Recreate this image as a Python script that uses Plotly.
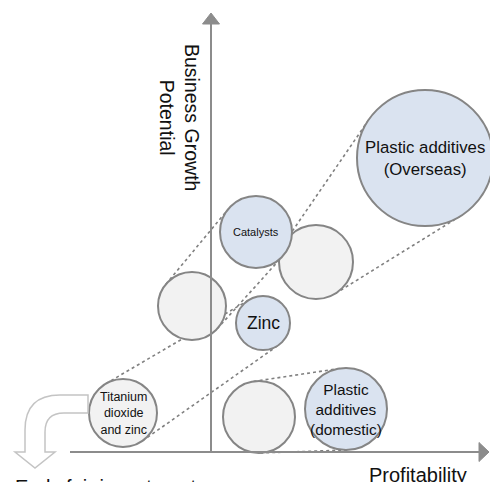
import math
import plotly.graph_objects as go

# ---- data (profitability = x, growth potential = y, bubble radius = size) ----
current_labels = ["Titanium<br>dioxide<br>and zinc", "", "", ""]
current_x = [-88, -19, 105, 48]
current_y = [39, 146, 190, 35]
current_r = [34, 34, 37, 36]

future_labels = ["Zinc", "Catalysts", "Plastic additives<br>(Overseas)", "Plastic<br>additives<br>(domestic)"]
future_x = [52, 45, 214, 135]
future_y = [129, 220, 294, 43]
future_r = [27, 36, 68, 41]

x_title = "Profitability"
y_title = "Business Growth<br>Potential"
exit_label = "Early fair investment"

# ---- styles ----
current_font = [12.5, 12, 12, 12]
future_font = [17.5, 11, 16.8, 15.4]
FONT = "Liberation Sans, Arial, sans-serif"
GRAY_FILL = "#f2f2f2"
BLUE_FILL = "#dae3f0"
EDGE = "#858585"
AXIS = "#8c8c8c"
DOT = "#808080"

W, H = 490, 482
XR = [-211, W - 211]
YR = [-30, H - 30]

fig = go.Figure()
fig.add_trace(go.Scatter(x=[0], y=[0], mode="markers", marker=dict(opacity=0), hoverinfo="skip", showlegend=False))

shapes = []
annotations = []


def tangents(c1, c2):
    x1, y1, r1 = c1
    x2, y2, r2 = c2
    dx, dy = x2 - x1, y2 - y1
    D = math.hypot(dx, dy)
    th = math.atan2(dy, dx)
    a = math.acos((r1 - r2) / D)
    out = []
    for phi in (th + a, th - a):
        nx, ny = math.cos(phi), math.sin(phi)
        out.append(((x1 + r1 * nx, y1 + r1 * ny), (x2 + r2 * nx, y2 + r2 * ny)))
    return out


# dotted connection lines (cone between current and future positions)
for i in range(len(current_x)):
    for p1, p2 in tangents((current_x[i], current_y[i], current_r[i]),
                           (future_x[i], future_y[i], future_r[i])):
        shapes.append(dict(type="line", xref="x", yref="y", x0=p1[0], y0=p1[1], x1=p2[0], y1=p2[1],
                           line=dict(color=DOT, width=1.6, dash="dot")))

# circles
for xs, ys, rs, fill in ((current_x, current_y, current_r, GRAY_FILL),
                         (future_x, future_y, future_r, BLUE_FILL)):
    for x, y, r in zip(xs, ys, rs):
        shapes.append(dict(type="circle", xref="x", yref="y", x0=x - r, x1=x + r, y0=y - r, y1=y + r,
                           fillcolor=fill, line=dict(color=EDGE, width=2)))

for labels, xs, ys, fs in ((current_labels, current_x, current_y, current_font),
                           (future_labels, future_x, future_y, future_font)):
    for t, x, y, f in zip(labels, xs, ys, fs):
        if t:
            annotations.append(dict(x=x, y=y, xref="x", yref="y", text=t, showarrow=False,
                                    font=dict(family=FONT, size=f, color="#111111"),
                                    xanchor="center", yanchor="middle", align="center"))

# exit bent arrow (outlined)
exit_path = ("M -123 57 L -151 57 Q -186 57 -186 22 L -186 0 L -196 0 L -176 -16 L -156 0 "
             "L -166 0 L -166 20 Q -166 39 -147 39 L -123 39 Z")
shapes.append(dict(type="path", xref="x", yref="y", path=exit_path, fillcolor="white",
                   line=dict(color="#c4c4c4", width=1.5)))

# axes with arrow heads
shapes.append(dict(type="line", xref="x", yref="y", x0=0, y0=0, x1=0, y1=430, line=dict(color=AXIS, width=2)))
shapes.append(dict(type="path", xref="x", yref="y", path="M -8.5 428 L 8.5 428 L 0 439 Z",
                   fillcolor=AXIS, line=dict(color=AXIS, width=1)))
shapes.append(dict(type="line", xref="x", yref="y", x0=-141, y0=0, x1=270, y1=0, line=dict(color=AXIS, width=2)))
shapes.append(dict(type="path", xref="x", yref="y", path="M 268 9.5 L 268 -9.5 L 278 0 Z",
                   fillcolor=AXIS, line=dict(color=AXIS, width=1)))

annotations.append(dict(x=-31, y=335, xref="x", yref="y", text=y_title, textangle=90, showarrow=False,
                        font=dict(family=FONT, size=19.5, color="#111111"), align="center",
                        xanchor="center", yanchor="middle"))
annotations.append(dict(x=207, y=-23, xref="x", yref="y", text=x_title, showarrow=False,
                        font=dict(family=FONT, size=20, color="#111111"), xanchor="center", yanchor="middle"))
annotations.append(dict(x=-198, y=-22, xref="x", yref="y", text=exit_label, showarrow=False,
                        font=dict(family=FONT, size=20, color="#111111"), xanchor="left", yanchor="top"))

fig.update_layout(
    width=W, height=H, margin=dict(l=0, r=0, t=0, b=0),
    paper_bgcolor="white", plot_bgcolor="white",
    xaxis=dict(range=XR, visible=False, fixedrange=True),
    yaxis=dict(range=YR, visible=False, fixedrange=True),
    shapes=shapes, annotations=annotations, showlegend=False,
)
fig.write_html("out.html")
